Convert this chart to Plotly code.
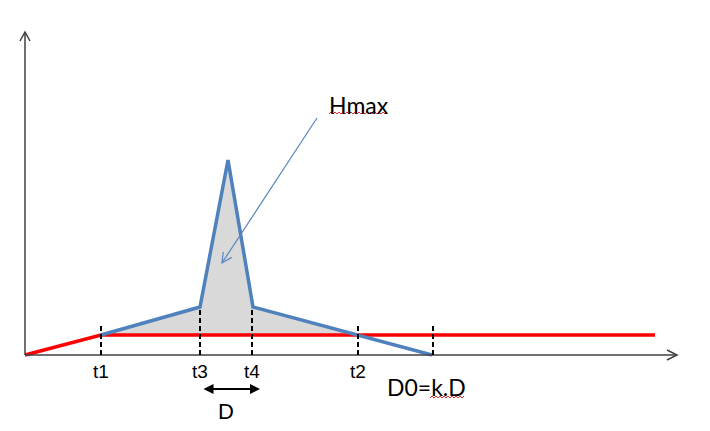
import numpy as np
import plotly.graph_objects as go

# ---- data (diagram units) ----
t_names = ["t1", "t3", "t4", "t2"]
t_values = [76, 175, 227, 333]
d0_value = 408

red_x = [0, 76, 630]
red_y = [0, 20, 20]

blue_x = [76, 175, 203, 228, 407]
blue_y = [20, 48, 195, 48, 0]

fill_x = [76, 175, 203, 228, 331, 76]
fill_y = [20, 48, 195, 48, 20, 20]

dash_tops = [30, 48, 48, 30, 30]
dash_xs = [76, 175, 227, 333, 408]

fig = go.Figure()

fig.add_trace(go.Scatter(x=fill_x, y=fill_y, fill="toself", fillcolor="#D9D9D9",
                         line=dict(width=0), mode="lines", hoverinfo="skip", showlegend=False))

shapes = []
axis_col = "#404040"
shapes.append(dict(type="line", x0=0, y0=0, x1=0, y1=323, line=dict(color=axis_col, width=1.5)))
shapes.append(dict(type="line", x0=0, y0=0, x1=652, y1=0, line=dict(color=axis_col, width=1.5)))
shapes.append(dict(type="path", path="M -5,314 L 0,323 L 5,314", line=dict(color=axis_col, width=1.5)))
shapes.append(dict(type="path", path="M 642,5 L 652,0 L 642,-5", line=dict(color=axis_col, width=1.5)))

for xv, top in zip(dash_xs, dash_tops):
    shapes.append(dict(type="line", x0=xv, y0=0, x1=xv, y1=top,
                       line=dict(color="black", width=2, dash="5px,3px")))

fig.add_trace(go.Scatter(x=red_x, y=red_y, mode="lines", line=dict(color="#FF0000", width=3.5),
                         hoverinfo="skip", showlegend=False))
fig.add_trace(go.Scatter(x=blue_x, y=blue_y, mode="lines", line=dict(color="#4F81BD", width=3.5),
                         hoverinfo="skip", showlegend=False))

# Hmax pointer arrow
x0a, y0a, x1a, y1a = 292, 237, 197, 92
shapes.append(dict(type="line", x0=x0a, y0=y0a, x1=x1a, y1=y1a, line=dict(color="#5B85BE", width=1.2)))
d = np.array([x1a - x0a, y1a - y0a], dtype=float)
d /= np.linalg.norm(d)
n = np.array([-d[1], d[0]])
tip = np.array([x1a, y1a])
p1 = tip - d * 10 + n * 5
p2 = tip - d * 10 - n * 5
shapes.append(dict(type="path", path=f"M {p1[0]},{p1[1]} L {tip[0]},{tip[1]} L {p2[0]},{p2[1]}",
                   line=dict(color="#5B85BE", width=1.2)))

def squiggle(xa, xb, y):
    xs = np.arange(xa, xb + 0.1, 2)
    ys = [y + (1 if i % 2 else -1) for i in range(len(xs))]
    return "M " + " L ".join(f"{a},{b}" for a, b in zip(xs, ys))

shapes.append(dict(type="path", path=squiggle(304, 363, 242), line=dict(color="#E03030", width=1)))
shapes.append(dict(type="path", path=squiggle(405, 440, -42), line=dict(color="#E03030", width=1)))

annotations = []
font_lbl = dict(family="Liberation Sans, Arial", size=19, color="black")
for name, xv in zip(t_names, t_values):
    annotations.append(dict(x=xv, y=-16, text=name, showarrow=False, font=font_lbl,
                            xanchor="center", yanchor="middle"))
calib = dict(family="Lato, Open Sans", size=23, color="black")
annotations.append(dict(x=d0_value - 7, y=-32, text="D0=k.D", showarrow=False, font=calib,
                        xanchor="center", yanchor="middle"))
annotations.append(dict(x=334, y=250, text="Hmax", showarrow=False, font=calib,
                        xanchor="center", yanchor="middle"))
annotations.append(dict(x=201, y=-56, text="D", showarrow=False,
                        font=dict(family="Liberation Sans, Arial", size=22, color="black"),
                        xanchor="center", yanchor="middle"))
annotations.append(dict(x=235, y=-34, ax=177, ay=-34, xref="x", yref="y", axref="x", ayref="y",
                        text="", showarrow=True, arrowside="end+start", arrowhead=2,
                        arrowsize=1, arrowwidth=2, arrowcolor="black"))

# page body has an 8px margin: figure is 702x423 placed at (8,8)
fig.update_layout(
    width=702, height=423, autosize=False,
    margin=dict(l=0, r=0, t=0, b=0),
    plot_bgcolor="white", paper_bgcolor="white",
    xaxis=dict(range=[-17, 685], visible=False, fixedrange=True),
    yaxis=dict(range=[-76, 347], visible=False, fixedrange=True),
    shapes=shapes, annotations=annotations, showlegend=False,
)

fig.write_html("out.html")
